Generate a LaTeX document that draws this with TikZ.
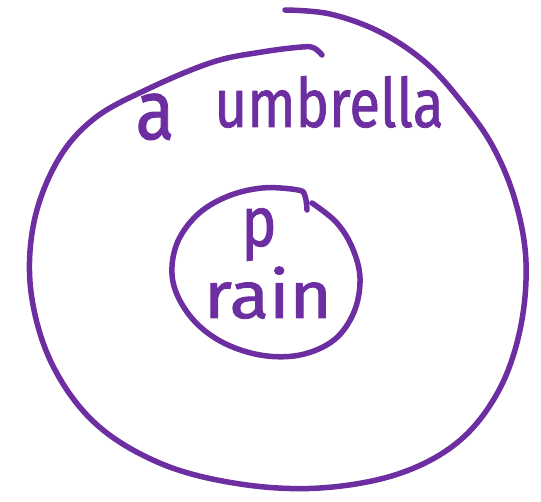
\documentclass[tikz,border=0pt]{standalone}
\usepackage{fontspec}
\setmainfont{Fira Sans}
\newfontfamily\handfont[FakeBold=1.2]{Fira Sans}
\definecolor{inkpurple}{RGB}{108,46,160}
\tikzset{
  pen/.style={draw=inkpurple,line width=5.5pt,line cap=round,line join=round},
  hand/.style={text=inkpurple,inner sep=0pt,anchor=base}
}

\begin{document}
\begin{tikzpicture}[x=1pt,y=-1pt]
  \useasboundingbox (0,0) rectangle (541,502);
  % outer loop
  \draw[pen] plot[smooth,tension=0.6] coordinates {
    (285,10) (330,14) (380,32) (425,62) (460,100) (492,145) (515,200)
    (526,262) (520,330) (498,392) (458,442) (398,474) (320,488) (240,484)
    (162,464) (96,424) (52,364) (31,292) (34,222) (58,160) (95,118)
    (150,88) (213,62) (262,52) (302,47) (314,48) (322,55)};
  % inner loop
  \draw[pen] plot[smooth,tension=0.6] coordinates {
    (312,203) (336,222) (352,247) (360,278) (354,312) (334,340) (300,355)
    (260,355) (220,341) (190,316) (173,282) (176,246) (196,216) (226,197)
    (262,188) (298,190) (305,196) (307,210)};
  % labels
  \node[hand,xscale=0.85,font=\handfont\fontsize{84}{86}\selectfont] (art) at (155,139) {a};
  \node[hand,xscale=0.83,font=\handfont\fontsize{68}{70}\selectfont] (umb) at (329,127) {umbrella};
  \node[hand,xscale=0.85,font=\handfont\fontsize{70}{72}\selectfont] (p) at (259,246) {p};
  \node[hand,xscale=1.1,font=\handfont\fontsize{66}{68}\selectfont] (rain) at (268,318) {rain};
\end{tikzpicture}
\end{document}
